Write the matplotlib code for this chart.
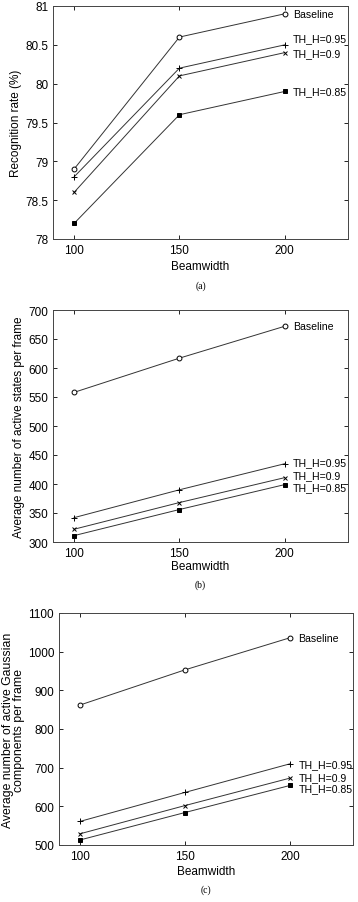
import matplotlib
matplotlib.use("Agg")
import matplotlib.pyplot as plt

plt.rcParams['font.family'] = ['Liberation Sans', 'DejaVu Sans']

beamwidth = [100, 150, 200]
series_names = ["Baseline", "TH_H=0.95", "TH_H=0.9", "TH_H=0.85"]

rate_baseline = [78.9, 80.6, 80.9]
rate_095 = [78.8, 80.2, 80.5]
rate_090 = [78.6, 80.1, 80.4]
rate_085 = [78.2, 79.6, 79.9]

states_baseline = [558, 617, 672]
states_095 = [342, 390, 435]
states_090 = [322, 368, 411]
states_085 = [311, 356, 399]

gauss_baseline = [862, 953, 1036]
gauss_095 = [561, 636, 710]
gauss_090 = [529, 602, 673]
gauss_085 = [513, 584, 654]

yticks_a = [78, 78.5, 79, 79.5, 80, 80.5, 81]
yticks_b = [300, 350, 400, 450, 500, 550, 600, 650, 700]
yticks_c = [500, 600, 700, 800, 900, 1000, 1100]

markers = ['o', '+', 'x', 's']
msizes = [3.5, 4, 3.5, 2.5]
mfcs = ['white', 'black', 'black', 'black']

W, H = 358, 903
fig = plt.figure(figsize=(W / 100, H / 100), dpi=100)

def axes_px(l, r, t, b):
    return fig.add_axes([l / W, 1 - b / H, (r - l) / W, (b - t) / H])

panels = [
    dict(box=(53, 348, 7, 240), data=[rate_baseline, rate_095, rate_090, rate_085],
         yticks=yticks_a, ylim=(78, 81), ylabel="Recognition rate (%)", ylfs=8.5, lsp=1.0, tag="(a)",
         xlab_y=267, tag_y=286, label_offsets=[0, 0.09, -0.01, 0]),
    dict(box=(53, 348, 311, 543), data=[states_baseline, states_095, states_090, states_085],
         yticks=yticks_b, ylim=(300, 700), ylabel="Average number of active states per frame", ylfs=8.5, lsp=1.0, tag="(b)",
         xlab_y=567, tag_y=585, label_offsets=[0, 3, 5, -5]),
    dict(box=(59, 353, 614, 846), data=[gauss_baseline, gauss_095, gauss_090, gauss_085],
         yticks=yticks_c, ylim=(500, 1100), ylabel="Average number of active Gaussian\ncomponents per frame", ylfs=8.8, lsp=0.85, tag="(c)",
         xlab_y=872, tag_y=890, label_offsets=[0, 0, 3, -8]),
]

for p in panels:
    l, r, t, b = p['box']
    ax = axes_px(l, r, t, b)
    for i, (vals, name) in enumerate(zip(p['data'], series_names)):
        ax.plot(beamwidth, vals, color='#333333', lw=0.7, marker=markers[i],
                ms=msizes[i], mfc=mfcs[i], mec='black', mew=0.7)
        ax.text(beamwidth[-1] + 4, vals[-1] + p['label_offsets'][i], name,
                fontsize=7.6, va='center', ha='left')
    ax.set_xlim(90, 230)
    ax.set_ylim(*p['ylim'])
    ax.set_xticks(beamwidth)
    ax.set_yticks(p['yticks'])
    ax.set_yticklabels([('%g' % v) for v in p['yticks']])
    ax.tick_params(direction='in', top=True, right=True, labelsize=8.5, length=3, width=0.6)
    for s in ax.spines.values():
        s.set_linewidth(0.7)
        s.set_color('#444444')
    ax.set_ylabel(p['ylabel'], fontsize=p['ylfs'], labelpad=2, linespacing=p['lsp'])
    fig.text(((l + r) / 2) / W, 1 - p['xlab_y'] / H, "Beamwidth", ha='center', va='center', fontsize=8.5)
    fig.text(((l + r) / 2) / W, 1 - p['tag_y'] / H, p['tag'], ha='center', va='center',
             fontsize=7, family=['Liberation Serif', 'DejaVu Serif'])

fig.savefig("out.png", dpi=100)
